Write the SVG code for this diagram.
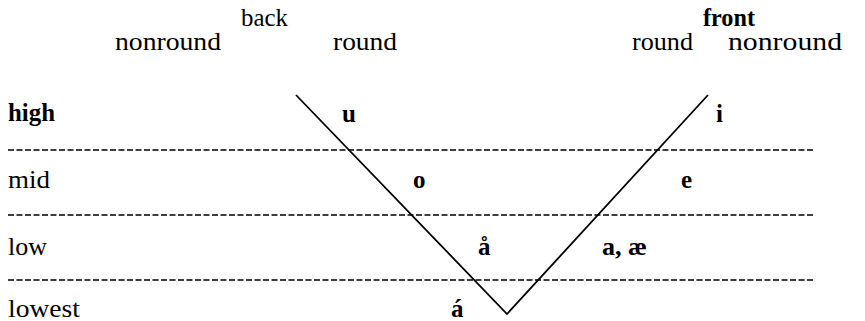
<svg xmlns="http://www.w3.org/2000/svg" width="865" height="321" viewBox="0 0 865 321">
<style>
text{font-size:25px;fill:#000}
.b{font-weight:bold}
.dash{stroke:#000;stroke-width:1.5;stroke-dasharray:6 2.5;fill:none}
.v{stroke:#000;stroke-width:1.8;fill:none}
</style>
<rect width="865" height="321" fill="#fff"/>
<g font-family="Liberation Serif, Times New Roman, Tinos, serif">
<g id="headers">
<text x="241" y="26" textLength="47" lengthAdjust="spacingAndGlyphs">back</text>
<text x="115" y="50" textLength="106" lengthAdjust="spacingAndGlyphs">nonround</text>
<text x="333" y="50" textLength="64" lengthAdjust="spacingAndGlyphs">round</text>
<text class="b" x="703" y="26" textLength="52" lengthAdjust="spacingAndGlyphs">front</text>
<text x="632" y="50" textLength="61" lengthAdjust="spacingAndGlyphs">round</text>
<text x="728" y="50" textLength="114" lengthAdjust="spacingAndGlyphs">nonround</text>
</g>
<g id="levels">
<text class="b" x="8" y="121" textLength="47" lengthAdjust="spacingAndGlyphs">high</text>
<text x="8" y="188" textLength="42" lengthAdjust="spacingAndGlyphs">mid</text>
<text x="8" y="255" textLength="39" lengthAdjust="spacingAndGlyphs">low</text>
<text x="8" y="317" textLength="72" lengthAdjust="spacingAndGlyphs">lowest</text>
</g>
<g id="gridlines">
<line class="dash" x1="8" y1="150" x2="813" y2="150"/>
<line class="dash" x1="8" y1="215" x2="813" y2="215"/>
<line class="dash" x1="8" y1="280" x2="813" y2="280"/>
</g>
<g id="connectors">
<polyline class="v" points="296,95 507,314 708,95"/>
</g>
<g id="vowels">
<text class="b" x="342" y="122">u</text>
<text class="b" x="716" y="122">i</text>
<text class="b" x="413" y="188">o</text>
<text class="b" x="681" y="188">e</text>
<text class="b" x="478" y="255">å</text>
<text class="b" x="602" y="255" textLength="45" lengthAdjust="spacingAndGlyphs">a, æ</text>
<text class="b" x="451" y="317">á</text>
</g>
</g>
</svg>
